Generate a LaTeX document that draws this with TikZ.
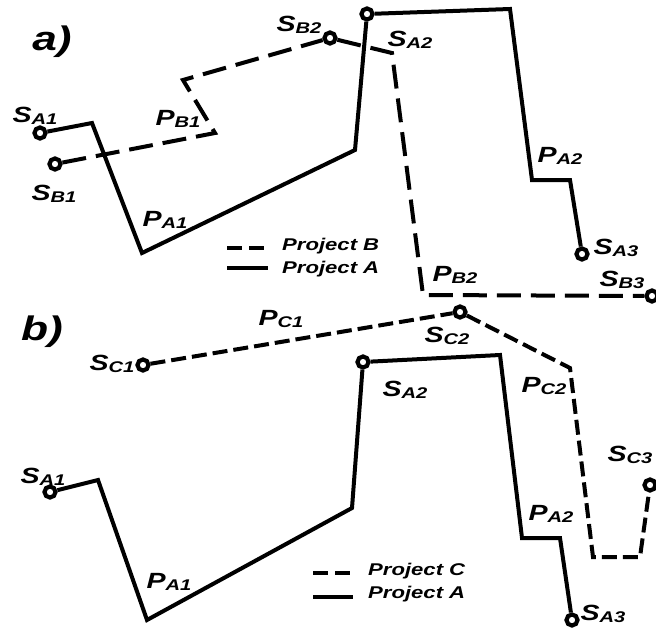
\documentclass[tikz,border=0pt]{standalone}
\usepackage{fontspec}
\setmainfont{Liberation Sans}[FakeStretch=1.3]
\usetikzlibrary{calc}

% station / path label: big letter + lowered subscript
\newcommand{\stlbl}[2]{{\fontsize{22}{22}\selectfont #1}\raisebox{-2pt}{\fontsize{15.5}{15.5}\selectfont #2}}

\begin{document}
\begin{tikzpicture}[x=1pt,y=-1pt,font=\bfseries\itshape,
		stn/.style={circle,draw,line width=4.2pt,fill=white,minimum size=11pt,inner sep=0pt},
		lbl/.style={inner sep=0pt},
		projA/.style={line width=4pt},
		projB/.style={line width=4pt,dash pattern=on 24pt off 10pt},
		projC/.style={line width=4pt,dash pattern=on 15pt off 6pt},
		legdash/.style={line width=4pt,dash pattern=on 15pt off 7pt},
		legtxt/.style={anchor=base west,inner sep=0pt,font=\bfseries\itshape\fontsize{17}{17}\selectfont},
		panel/.style={inner sep=0pt,font=\bfseries\itshape\fontsize{34}{34}\selectfont}]
		
		\useasboundingbox (0,0) rectangle (656,635);
		
		% ---- Panel a) ----
		\node[panel] (pa) at (52,42) {a)};
		
		% stations
		\node[stn] (aSA1) at (40,133) {};
		\node[stn] (aSA2) at (367,14) {};
		\node[stn] (aSA3) at (582,254) {};
		\node[stn] (aSB1) at (55,164) {};
		\node[stn] (aSB2) at (330,38) {};
		\node[stn] (aSB3) at (652,296) {};
		
		% bends of project A
		\coordinate (aA1) at (92,123);
		\coordinate (aA2) at (142,253);
		\coordinate (aA3) at (355,150);
		\coordinate (aA4) at (510,9);
		\coordinate (aA5) at (532,180);
		\coordinate (aA6) at (570,180);
		
		% bends of project B
		\coordinate (aB1) at (215,133);
		\coordinate (aB2) at (183,80);
		\coordinate (aB3) at (392,53);
		\coordinate (aB4) at (423,295);
		
		\draw[projA] (aSA1) -- (aA1) -- (aA2) -- (aA3) -- (aSA2) -- (aA4) -- (aA5) -- (aA6) -- (aSA3);
		\draw[projB] (aSB1) -- (aB1) -- (aB2) -- (aSB2) -- (aB3) -- (aB4) -- (aSB3);
		
		% labels
		\node[lbl] (laSA1) at (35,116) {\stlbl{S}{A1}};
		\node[lbl] (laSB1) at (54,194) {\stlbl{S}{B1}};
		\node[lbl] (laPB1) at (178,119) {\stlbl{P}{B1}};
		\node[lbl] (laPA1) at (165,220) {\stlbl{P}{A1}};
		\node[lbl] (laSB2) at (299,25) {\stlbl{S}{B2}};
		\node[lbl] (laSA2) at (410,40) {\stlbl{S}{A2}};
		\node[lbl] (laPA2) at (560,156) {\stlbl{P}{A2}};
		\node[lbl] (laSA3) at (616,248) {\stlbl{S}{A3}};
		\node[lbl] (laPB2) at (455,275) {\stlbl{P}{B2}};
		\node[lbl] (laSB3) at (622,280) {\stlbl{S}{B3}};
		
		% legend
		\coordinate (aL1) at (227,248);
		\coordinate (aL2) at (268,248);
		\coordinate (aL3) at (227,268);
		\coordinate (aL4) at (268,268);
		\draw[legdash] (aL1) -- (aL2);
		\draw[projA] (aL3) -- (aL4);
		\node[legtxt] (aLB) at (282,250) {Project B};
		\node[legtxt] (aLA) at (282,273) {Project A};
		
		% ---- Panel b) ----
		\node[panel] (pb) at (42,332) {b)};
		
		% stations
		\node[stn] (bSA1) at (50,492) {};
		\node[stn] (bSA2) at (363,362) {};
		\node[stn] (bSA3) at (572,620) {};
		\node[stn] (bSC1) at (143,365) {};
		\node[stn] (bSC2) at (460,312) {};
		\node[stn] (bSC3) at (650,485) {};
		
		% bends of project A
		\coordinate (bA1) at (98,480);
		\coordinate (bA2) at (147,620);
		\coordinate (bA3) at (352,508);
		\coordinate (bA4) at (500,355);
		\coordinate (bA5) at (522,538);
		\coordinate (bA6) at (560,538);
		
		% bends of project C
		\coordinate (bC1) at (570,368);
		\coordinate (bC2) at (593,557);
		\coordinate (bC3) at (640,557);
		
		\draw[projA] (bSA1) -- (bA1) -- (bA2) -- (bA3) -- (bSA2) -- (bA4) -- (bA5) -- (bA6) -- (bSA3);
		\draw[projC] (bSC1) -- (bSC2) -- (bC1) -- (bC2) -- (bC3) -- (bSC3);
		
		% labels
		\node[lbl] (lbPC1) at (281,319) {\stlbl{P}{C1}};
		\node[lbl] (lbSC1) at (112,364) {\stlbl{S}{C1}};
		\node[lbl] (lbSC2) at (447,336) {\stlbl{S}{C2}};
		\node[lbl] (lbPC2) at (544,386) {\stlbl{P}{C2}};
		\node[lbl] (lbSC3) at (630,455) {\stlbl{S}{C3}};
		\node[lbl] (lbSA1) at (43,477) {\stlbl{S}{A1}};
		\node[lbl] (lbSA2) at (405,390) {\stlbl{S}{A2}};
		\node[lbl] (lbPA1) at (169,582) {\stlbl{P}{A1}};
		\node[lbl] (lbPA2) at (551,514) {\stlbl{P}{A2}};
		\node[lbl] (lbSA3) at (603,614) {\stlbl{S}{A3}};
		
		% legend
		\coordinate (bL1) at (313,573);
		\coordinate (bL2) at (353,573);
		\coordinate (bL3) at (313,597);
		\coordinate (bL4) at (353,597);
		\draw[legdash] (bL1) -- (bL2);
		\draw[projA] (bL3) -- (bL4);
		\node[legtxt] (bLC) at (368,575) {Project C};
		\node[legtxt] (bLA) at (368,598) {Project A};
		
	\end{tikzpicture}
\end{document}
